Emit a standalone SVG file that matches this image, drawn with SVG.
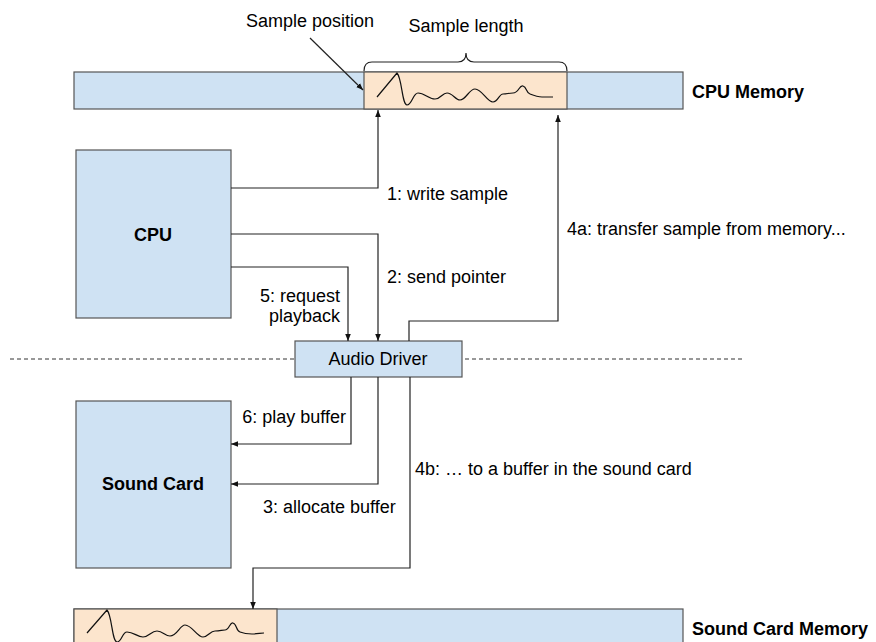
<svg xmlns="http://www.w3.org/2000/svg" width="876" height="642" viewBox="0 0 876 642">
<style>
text{font-family:"Liberation Sans",Arial,sans-serif;font-size:18px;fill:#000}
.b{font-weight:bold}
.m{text-anchor:middle}
.e{text-anchor:end}
.blue{fill:#cfe2f3;stroke:#555;stroke-width:1.2}
.or{fill:#fce5cd;stroke:#555;stroke-width:1.2}
.c{fill:none;stroke:#222;stroke-width:1.2}
.a{marker-end:url(#ah)}
.w{fill:none;stroke:#111;stroke-width:1.2;stroke-linejoin:round}
</style>
<defs>
<marker id="ah" markerWidth="8" markerHeight="8" refX="7" refY="4" orient="auto" markerUnits="userSpaceOnUse">
<path d="M0,1.2 L7,4 L0,6.8 z" fill="#111"/>
</marker>
</defs>
<g id="divider">
<line x1="10" y1="359" x2="745" y2="359" stroke="#333" stroke-width="1" stroke-dasharray="4,3"/>
</g>
<g id="cpu-memory">
<rect class="blue" x="74" y="72" width="609" height="37"/>
<rect class="or" x="364" y="72" width="203" height="37"/>
<path class="w" d="M377,97 L397,73 C402,78 402,105 407,105 C412,105 413,93 418,93 C425,93 428,99 435,99 C441,99 442,93 447,93 C453,93 455,100 460,100 C466,100 469,89 475,89 C482,89 487,102 493,102 C498,102 499,94 503,94 C507,94 509,93 513,93 C519,93 519,85 523,86 C527,87 526,93 530,94 C535,96 538,97 542,97 C547,97 550,97 553,97"/>
<text class="b" x="692" y="98">CPU Memory</text>
</g>
<g id="sample-labels">
<text class="m" x="310" y="27">Sample position</text>
<text class="m" x="466" y="32">Sample length</text>
<path class="c" d="M364,71 Q364,62 372,62 L458,62 Q466,62 466,53 Q466,62 474,62 L559,62 Q567,62 567,71"/>
<line class="c a" x1="310" y1="38" x2="363" y2="90"/>
</g>
<g id="cpu">
<rect class="blue" x="76" y="150" width="155" height="168"/>
<text class="b m" x="153" y="241">CPU</text>
</g>
<g id="audio-driver">
<rect class="blue" x="295" y="341" width="167" height="36"/>
<text class="m" x="378" y="365">Audio Driver</text>
</g>
<g id="sound-card">
<rect class="blue" x="76" y="401" width="155" height="167"/>
<text class="b m" x="153" y="490">Sound Card</text>
</g>
<g id="sound-card-memory">
<rect class="blue" x="74" y="609" width="609" height="40"/>
<rect class="or" x="74" y="609" width="203" height="40"/>
<path class="w" d="M87,633 L107,610 C112,615 112,642 117,642 C122,642 122,632 127,632 C134,632 137,637 143,637 C149,637 151,631 157,631 C163,631 165,636 170,636 C177,636 180,625 185,625 C192,625 197,637 203,637 C208,637 210,631 215,631 C220,631 222,630 225,630 C229,630 230,622 233,623 C237,624 236,631 240,632 C245,634 248,634 252,634 C257,634 261,633 264,633"/>
<text class="b" x="692" y="635">Sound Card Memory</text>
</g>
<g id="connectors">
<path class="c a" d="M231,188 H378 V110"/>
<path class="c a" d="M231,234 H378 V341"/>
<path class="c a" d="M231,267 H348 V341"/>
<path class="c a" d="M409,341 V321 H558 V115"/>
<path class="c a" d="M351,377 V444 H231"/>
<path class="c a" d="M378,377 V484 H231"/>
<path class="c a" d="M410,377 V568 H253 V609"/>
</g>
<g id="labels">
<text x="387" y="200">1: write sample</text>
<text x="387" y="283">2: send pointer</text>
<text class="e" x="340" y="302">5: request</text>
<text class="e" x="340" y="322">playback</text>
<text x="567" y="235">4a: transfer sample from memory...</text>
<text class="e" x="346" y="423">6: play buffer</text>
<text x="263" y="513">3: allocate buffer</text>
<text x="415" y="475">4b: … to a buffer in the sound card</text>
</g>
</svg>
